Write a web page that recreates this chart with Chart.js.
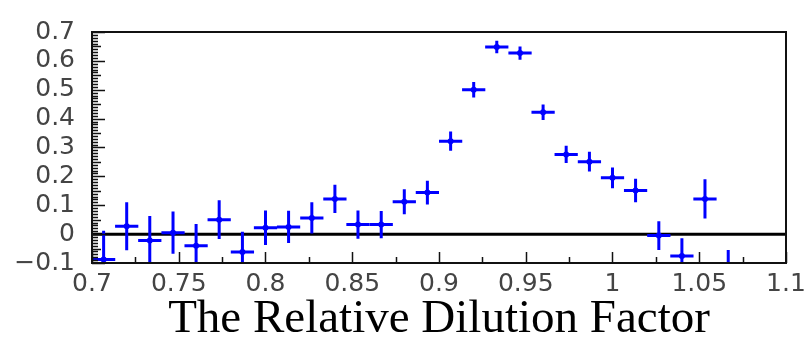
<!DOCTYPE html>
<html>
<head>
<meta charset="utf-8">
<script src="https://cdn.jsdelivr.net/npm/chart.js@4"></script>
<style>
  html, body { margin: 0; padding: 0; background: #fff; }
  #wrap { width: 812px; height: 341px; }
</style>
</head>
<body>
<div id="wrap"><canvas id="chart" width="812" height="341"></canvas></div>
<script>
// bin centres of the relative dilution factor (30 bins from 0.7 to 1.1)
const binCenters = [
  0.7067, 0.7200, 0.7333, 0.7467, 0.7600, 0.7733, 0.7867, 0.8000, 0.8133, 0.8267,
  0.8400, 0.8533, 0.8667, 0.8800, 0.8933, 0.9067, 0.9200, 0.9333, 0.9467, 0.9600,
  0.9733, 0.9867, 1.0000, 1.0133, 1.0267, 1.0400, 1.0533, 1.0667
];
const dilutionValues = [
  -0.088, 0.027, -0.022, 0.005, -0.040, 0.050, -0.062, 0.022, 0.025, 0.056,
  0.122, 0.033, 0.033, 0.112, 0.144, 0.322, 0.500, 0.648, 0.627, 0.422,
  0.276, 0.251, 0.195, 0.151, -0.005, -0.076, 0.122, -0.135
];
const dilutionErrors = [
  0.100, 0.083, 0.085, 0.073, 0.075, 0.067, 0.070, 0.060, 0.056, 0.054,
  0.049, 0.049, 0.047, 0.043, 0.041, 0.033, 0.027, 0.022, 0.023, 0.027,
  0.030, 0.034, 0.036, 0.041, 0.050, 0.062, 0.068, 0.080
];
const binHalfWidth = 0.0067;

const zeroLineX = [0.7, 1.1];
const zeroLineY = [0, 0];

const xTickValues = [0.7, 0.75, 0.8, 0.85, 0.9, 0.95, 1.0, 1.05, 1.1];
const xTickLabels = ['0.7', '0.75', '0.8', '0.85', '0.9', '0.95', '1', '1.05', '1.1'];
const yTickValues = [-0.1, 0, 0.1, 0.2, 0.3, 0.4, 0.5, 0.6, 0.7];
const yTickLabels = ['\u22120.1', '0', '0.1', '0.2', '0.3', '0.4', '0.5', '0.6', '0.7'];

const BLUE = '#0000ff';
const tickFont = { family: '"DejaVu Sans", sans-serif', size: 25 };

// error bars, drawn through the chart scales
const errorBars = {
  id: 'errorBars',
  afterDatasetsDraw(chart) {
    const { ctx, chartArea, scales: { x, y } } = chart;
    ctx.save();
    ctx.beginPath();
    ctx.rect(chartArea.left, chartArea.top, chartArea.right - chartArea.left, chartArea.bottom - chartArea.top);
    ctx.clip();
    ctx.strokeStyle = BLUE;
    ctx.lineWidth = 3;
    binCenters.forEach((c, i) => {
      const v = dilutionValues[i];
      const e = dilutionErrors[i];
      const px = x.getPixelForValue(c);
      const py = y.getPixelForValue(v);
      ctx.beginPath();
      ctx.moveTo(px, y.getPixelForValue(v + e));
      ctx.lineTo(px, y.getPixelForValue(v - e));
      ctx.moveTo(x.getPixelForValue(c - binHalfWidth), py);
      ctx.lineTo(x.getPixelForValue(c + binHalfWidth), py);
      ctx.stroke();
    });
    ctx.restore();
  }
};

// ROOT-style frame with ticks pointing inwards
const frameTicks = {
  id: 'frameTicks',
  afterDraw(chart) {
    const { ctx, chartArea: a, scales: { x, y } } = chart;
    ctx.save();
    ctx.strokeStyle = '#111';
    ctx.lineWidth = 1.5;
    ctx.beginPath();
    for (let k = -10; k <= 70; k++) {
      const py = Math.round(y.getPixelForValue(k / 100)) + 0.5;
      const len = k % 10 === 0 ? 13 : (k % 5 === 0 ? 9 : 6);
      ctx.moveTo(a.left, py);
      ctx.lineTo(a.left + len, py);
    }
    for (let k = 0; k <= 16; k++) {
      const px = Math.round(x.getPixelForValue(0.7 + k * 0.025)) + 0.5;
      const len = k % 2 === 0 ? 11 : 6;
      ctx.moveTo(px, a.bottom);
      ctx.lineTo(px, a.bottom - len);
    }
    ctx.stroke();
    ctx.lineWidth = 2;
    ctx.strokeRect(a.left, a.top, a.right - a.left, a.bottom - a.top);
    ctx.restore();
  }
};

new Chart(document.getElementById('chart'), {
  type: 'scatter',
  data: {
    datasets: [
      {
        label: 'dilution',
        data: binCenters.map((c, i) => ({ x: c, y: dilutionValues[i] })),
        backgroundColor: BLUE,
        borderColor: BLUE,
        pointRadius: 3,
        pointBorderWidth: 0,
        showLine: false
      },
      {
        label: 'zero',
        type: 'line',
        data: zeroLineX.map((v, i) => ({ x: v, y: zeroLineY[i] })),
        borderColor: '#000',
        borderWidth: 3,
        pointRadius: 0
      }
    ]
  },
  options: {
    responsive: false,
    animation: false,
    layout: { padding: { top: 17, right: 26, left: 0, bottom: 0 } },
    plugins: { legend: { display: false }, tooltip: { enabled: false } },
    scales: {
      x: {
        type: 'linear',
        min: 0.7,
        max: 1.1,
        grid: { display: false, drawTicks: false },
        border: { display: false },
        afterBuildTicks: s => { s.ticks = xTickValues.map(v => ({ value: v })); },
        afterFit: s => { s.height = 78; },
        ticks: {
          autoSkip: false,
          maxRotation: 0,
          padding: 6,
          color: '#444',
          font: tickFont,
          callback: (v, i) => xTickLabels[i]
        },
        title: {
          display: true,
          text: 'The Relative Dilution Factor',
          color: '#000',
          font: { family: '"Liberation Serif", "Times New Roman", serif', size: 47, lineHeight: 1 },
          padding: { top: 0, bottom: -2 }
        }
      },
      y: {
        min: -0.1,
        max: 0.7,
        grid: { display: false, drawTicks: false },
        border: { display: false },
        afterBuildTicks: s => { s.ticks = yTickValues.map(v => ({ value: v })); },
        afterFit: s => { s.width = 92; },
        ticks: {
          autoSkip: false,
          padding: 17,
          color: '#444',
          font: tickFont,
          callback: (v, i) => yTickLabels[i]
        }
      }
    }
  },
  plugins: [errorBars, frameTicks]
});
</script>
</body>
</html>
